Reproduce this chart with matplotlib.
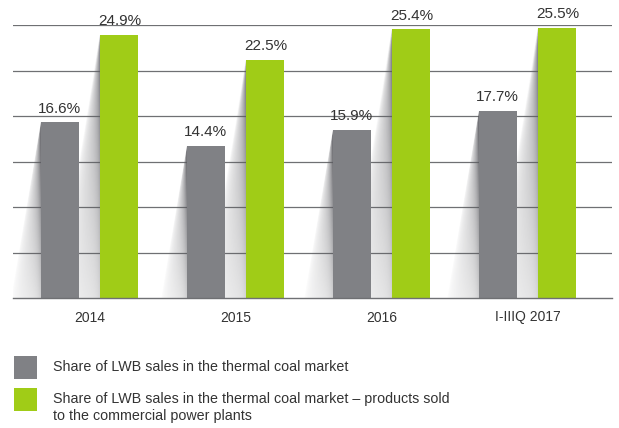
import numpy as np
import matplotlib
matplotlib.use("Agg")
import matplotlib.pyplot as plt
from matplotlib.patches import Polygon, Rectangle

plt.rcParams['font.family'] = ['Liberation Sans', 'DejaVu Sans']

# data
periods = ["2014", "2015", "2016", "I-IIIQ 2017"]
share_all = [16.6, 14.4, 15.9, 17.7]
share_power = [24.9, 22.5, 25.4, 25.5]
series_names = [
    "Share of LWB sales in the thermal coal market",
    "Share of LWB sales in the thermal coal market \u2013 products sold\nto the commercial power plants",
]
series_colors = ["#808185", "#a0cc17"]

fig = plt.figure(figsize=(6.19, 4.28), dpi=100)
ax = fig.add_axes([13 / 619, 130 / 428, 599 / 619, 273 / 428])

ytop = 25.8
width = 0.26
offset = 0.205
slope = 0.0123  # shadow spread (x units per % of height)
px_per_x = 146.0
x = np.arange(len(periods))

for y in np.linspace(0, ytop, 7)[1:]:
    ax.axhline(y, color="#6f7073", lw=0.9, zorder=0.5)
ax.axhline(0, color="#6f7073", lw=1.0, zorder=3, clip_on=False)


def shadow(xl, h):
    # triangle gradient to the left of a bar
    x0 = xl - slope * h
    nx, ny = 80, 200
    xs = np.linspace(x0, xl, nx)
    ys = np.linspace(0, h, ny)
    X, Y = np.meshgrid(xs, ys)
    w = slope * (h - Y) + 1e-9
    u = np.clip((xl - X) / w, 0, 1)
    d = (xl - X) * px_per_x
    vf = 0.3 + 0.7 * (Y / h)
    a = ((1 - u) ** 0.6 * 0.6 + 0.4 * np.exp(-d / 3.0)) * vf
    img = np.zeros((ny, nx, 4))
    img[..., 0] = 0.36
    img[..., 1] = 0.36
    img[..., 2] = 0.38
    img[..., 3] = np.clip(a, 0, 1)
    im = ax.imshow(img, extent=[x0, xl, 0, h], origin="lower",
                   aspect="auto", zorder=1, interpolation="bilinear")
    tri = Polygon([(xl, h), (xl, 0), (x0, 0)], closed=True,
                  facecolor="none", edgecolor="none", transform=ax.transData)
    ax.add_patch(tri)
    im.set_clip_path(tri)


for i in range(len(periods)):
    shadow(x[i] - offset - width / 2, share_all[i])
    shadow(x[i] + offset - width / 2, share_power[i])

ax.bar(x - offset, share_all, width, color=series_colors[0], zorder=2)
ax.bar(x + offset, share_power, width, color=series_colors[1], zorder=2)

for i in range(len(periods)):
    ax.annotate(f"{share_all[i]}%", (x[i] - offset, share_all[i]),
                xytext=(0, 7), textcoords="offset points", ha="center",
                va="baseline", fontsize=11, color="#333333")
    ax.annotate(f"{share_power[i]}%", (x[i] + offset, share_power[i]),
                xytext=(0, 7), textcoords="offset points", ha="center",
                va="baseline", fontsize=11, color="#333333")

ax.set_xlim(-0.524, 3.579)
ax.set_ylim(0, ytop)
ax.set_xticks(x)
ax.set_xticklabels(periods, fontsize=10, color="#333333")
ax.tick_params(axis="x", length=0, pad=9)
ax.set_yticks([])
for s in ax.spines.values():
    s.set_visible(False)

# legend drawn by hand
H = 428.0
for j, (name, col) in enumerate(zip(series_names, series_colors)):
    top = 356 + j * 32
    fig.patches.append(Rectangle((14 / 619, (H - top - 23) / H), 23 / 619, 23 / H,
                                 transform=fig.transFigure, facecolor=col,
                                 edgecolor="none"))
    fig.text(53 / 619, (H - top - 4) / H, name, fontsize=10.3, color="#333333",
             va="top", ha="left", linespacing=1.27)

fig.savefig("out.png", dpi=100)
